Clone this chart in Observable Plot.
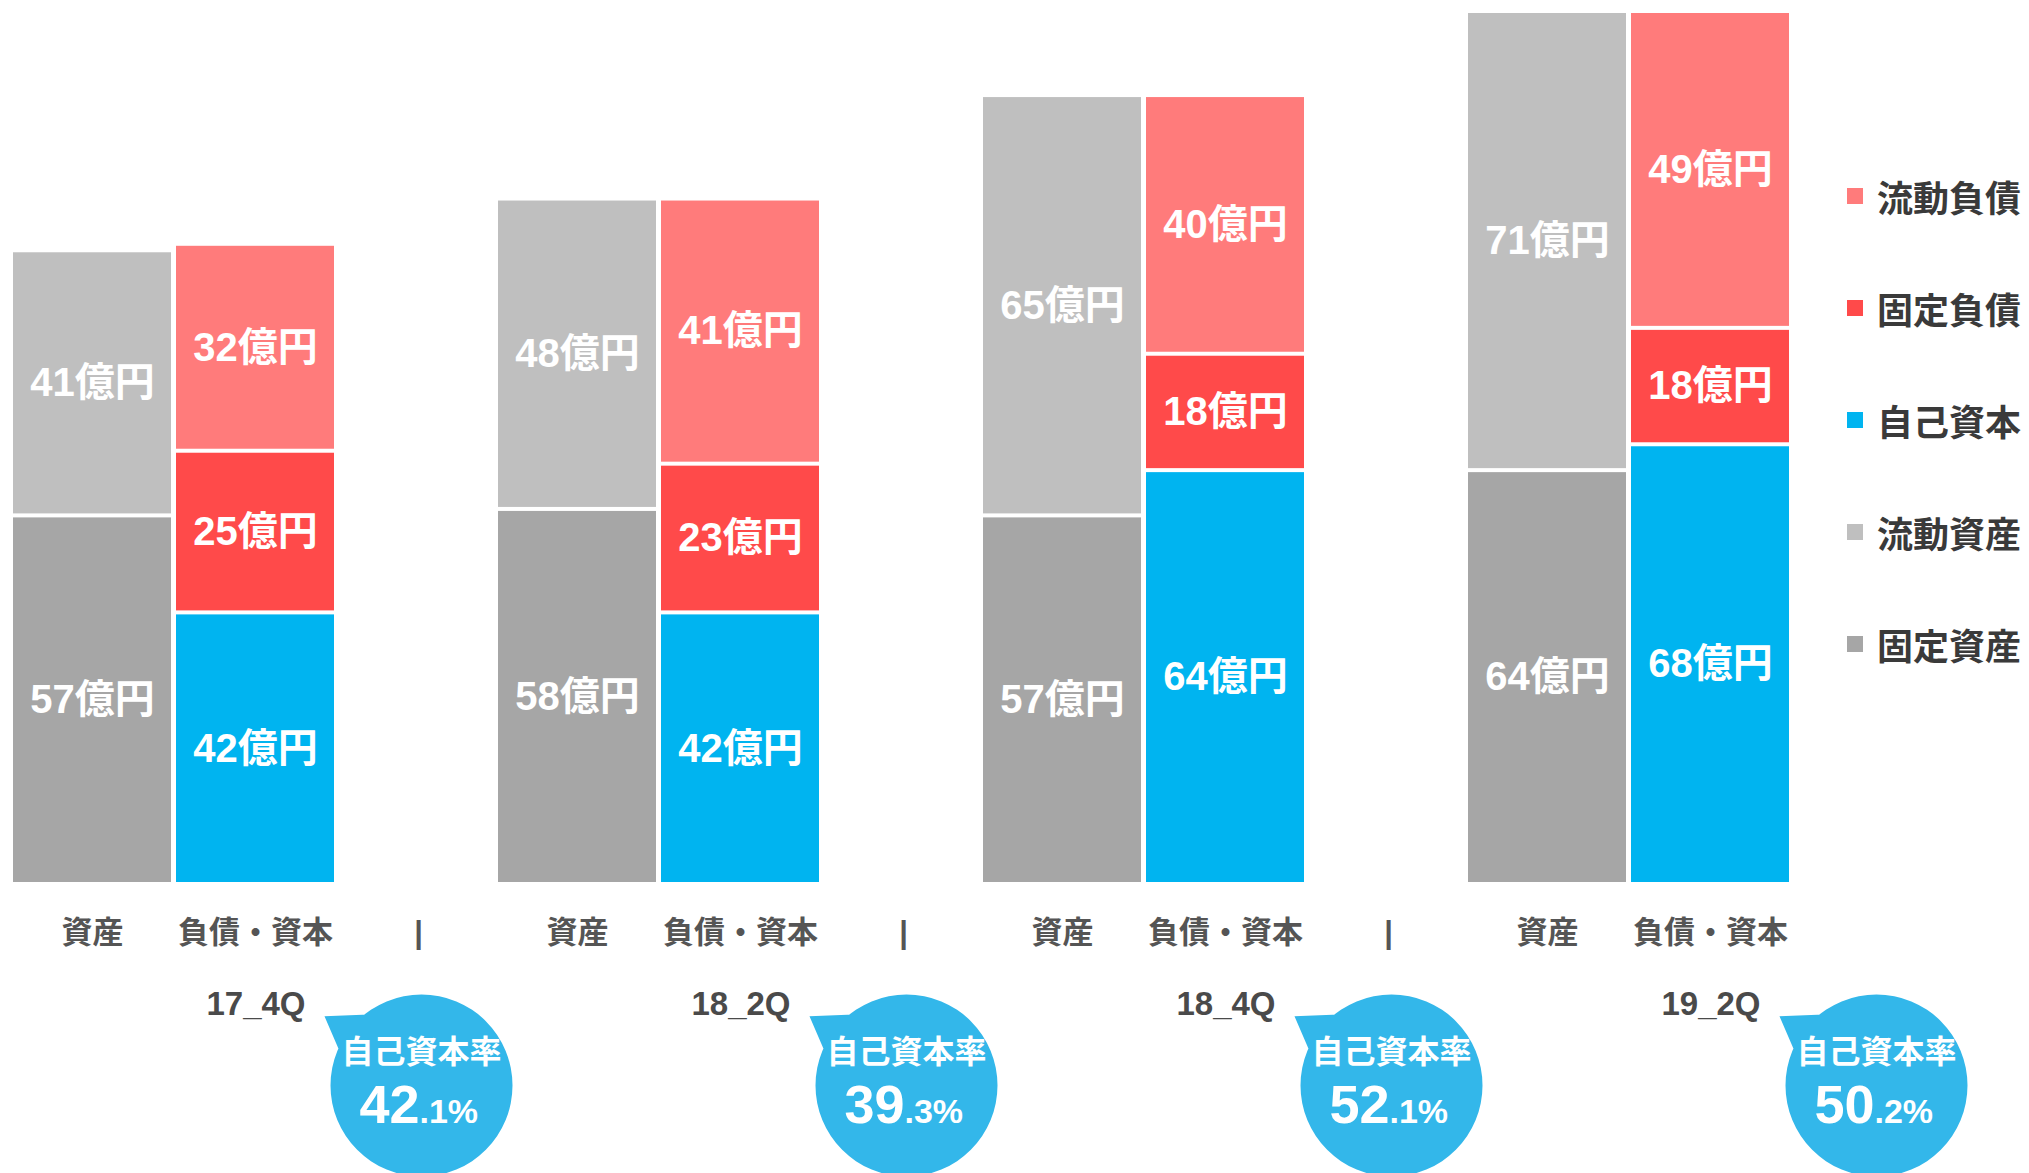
<!DOCTYPE html>
<html>
<head>
<meta charset="utf-8">
<script src="https://cdn.jsdelivr.net/npm/d3@7"></script>
<script src="https://cdn.jsdelivr.net/npm/@observablehq/plot@0.6"></script>
<style>
  html, body { margin: 0; padding: 0; background: #fff; }
  #wrap { position: relative; width: 2029px; height: 1173px; overflow: hidden; font-family: "Liberation Sans", "Noto Sans CJK JP", sans-serif; }
  #legend { position: absolute; left: 1847px; top: 140px; }
  .item { display: flex; align-items: center; height: 112px; }
  .sw { width: 16px; height: 16px; margin-right: 14px; }
  .lb { font-size: 36px; font-weight: 700; color: #3a3a3a; font-family: "Noto Sans CJK JP", sans-serif; }
</style>
</head>
<body>
<div id="wrap"><div id="chart"></div><div id="legend"></div></div>
<script>
// ---- data ----
const periods = ["17_4Q", "18_2Q", "18_4Q", "19_2Q"];
const sides = ["資産", "負債・資本", "|"];
const currentLiab = [32, 41, 40, 49];   // 流動負債
const fixedLiab = [25, 23, 18, 18];     // 固定負債
const equity = [42, 42, 64, 68];        // 自己資本
const currentAssets = [41, 48, 65, 71]; // 流動資産
const fixedAssets = [57, 58, 57, 64];   // 固定資産
const equityRatio = [42.1, 39.3, 52.1, 50.2]; // 自己資本率 (%)
const types = ["流動負債", "固定負債", "自己資本", "流動資産", "固定資産"];
const colors = ["#ff7b7b", "#ff4a4a", "#00b4f0", "#bfbfbf", "#a6a6a6"];
const unit = "億円";

// ---- tables built from the arrays ----
const rows = [];
periods.forEach((p, i) => {
  rows.push({period: p, side: "資産", type: "固定資産", value: fixedAssets[i]});
  rows.push({period: p, side: "資産", type: "流動資産", value: currentAssets[i]});
  rows.push({period: p, side: "負債・資本", type: "自己資本", value: equity[i]});
  rows.push({period: p, side: "負債・資本", type: "固定負債", value: fixedLiab[i]});
  rows.push({period: p, side: "負債・資本", type: "流動負債", value: currentLiab[i]});
});
const axisRows = periods.flatMap((p, i) =>
  sides.filter(s => s !== "|" || i < periods.length - 1).map(s => ({period: p, side: s})));
const ratioRows = periods.map((p, i) => {
  const [a, b] = equityRatio[i].toFixed(1).split(".");
  return {period: p, side: "|", int: a, dec: "." + b + "%"};
});

// speech-bubble symbol (circle + tail to the upper-left)
const bubble = {
  draw(ctx, size) {
    const r = Math.sqrt(size / Math.PI);
    ctx.moveTo(r, 0);
    ctx.arc(0, 0, r, 0, 2 * Math.PI);
    ctx.closePath();
    ctx.moveTo(-1.066 * r, -0.76 * r);
    ctx.lineTo(-0.58 * r, -0.78 * r);
    ctx.lineTo(-0.88 * r, -0.33 * r);
    ctx.closePath();
  }
};

const latin = "Liberation Sans, Noto Sans CJK JP, sans-serif";
const bdx = 3;

const chart = Plot.plot({
  width: 2029,
  height: 1173,
  marginLeft: 13,
  marginRight: 76,
  marginTop: 11,
  marginBottom: 289,
  style: {fontFamily: latin, overflow: "visible", background: "white"},
  fx: {domain: periods, padding: 0, axis: null},
  x: {domain: sides, paddingInner: 0.03, paddingOuter: 0, axis: null},
  y: {domain: [0, 135], axis: null},
  color: {domain: types, range: colors},
  marks: [
    Plot.barY(rows, {fx: "period", x: "side", y: "value", fill: "type", insetTop: 2, insetBottom: 2}),
    Plot.text(rows, Plot.stackY({fx: "period", x: "side", y: "value", z: "type",
      text: d => d.value + unit, fill: "white", fontSize: 40, fontWeight: "bold", fontFamily: latin})),
    Plot.text(axisRows, {fx: "period", x: "side", text: "side", frameAnchor: "bottom", dy: 58,
      fontSize: 31, fontWeight: "bold", fill: "#555", fontFamily: latin}),
    Plot.text(periods, {fx: d => d, text: d => d, frameAnchor: "bottom", dy: 130,
      fontSize: 33, fontWeight: "bold", fill: "#4a4a4a", fontFamily: latin}),
    Plot.dot(ratioRows, {fx: "period", x: "side", frameAnchor: "bottom", dy: 201, dx: bdx,
      r: 91, symbol: bubble, fill: "#33b7ea", stroke: "none"}),
    Plot.text(ratioRows, {fx: "period", x: "side", text: () => "自己資本率", frameAnchor: "bottom", dy: 178, dx: bdx,
      fontSize: 32, fontWeight: "bold", fill: "white", fontFamily: latin}),
    Plot.text(ratioRows, {fx: "period", x: "side", text: "int", frameAnchor: "bottom", dy: 238, dx: bdx - 2,
      lineAnchor: "bottom", textAnchor: "end", fontSize: 54, fontWeight: "bold", fill: "white", fontFamily: latin}),
    Plot.text(ratioRows, {fx: "period", x: "side", text: "dec", frameAnchor: "bottom", dy: 238, dx: bdx - 2,
      lineAnchor: "bottom", textAnchor: "start", fontSize: 34, fontWeight: "bold", fill: "white", fontFamily: latin})
  ]
});
document.getElementById("chart").appendChild(chart);

// legend
const legend = document.getElementById("legend");
types.forEach((t, i) => {
  const item = document.createElement("div");
  item.className = "item";
  const sw = document.createElement("div");
  sw.className = "sw";
  sw.style.background = colors[i];
  const lb = document.createElement("span");
  lb.className = "lb";
  lb.textContent = t;
  item.appendChild(sw);
  item.appendChild(lb);
  legend.appendChild(item);
});
</script>
</body>
</html>
